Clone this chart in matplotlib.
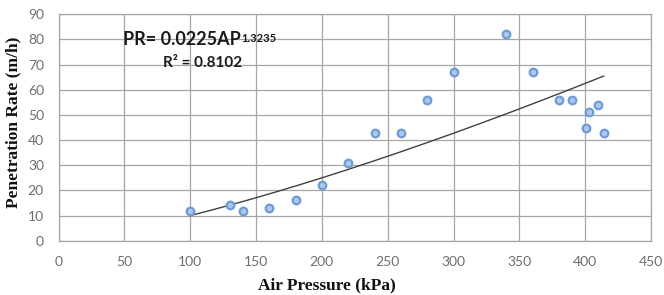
import numpy as np
import matplotlib
matplotlib.use("Agg")
import matplotlib.pyplot as plt

air_pressure = [100, 130, 140, 160, 180, 200, 220, 240, 260, 280, 300, 340, 360, 380, 390, 401, 403, 410, 414]
pen_rate = [12, 14, 12, 13, 16, 22, 31, 43, 43, 56, 67, 82, 67, 56, 56, 45, 51, 54, 43]
fit_a = 0.0225
fit_b = 1.3235
x_ticks = [0, 50, 100, 150, 200, 250, 300, 350, 400, 450]
y_ticks = [0, 10, 20, 30, 40, 50, 60, 70, 80, 90]

W, H = 664, 295
fig = plt.figure(figsize=(W / 100, H / 100), dpi=100)
ax = fig.add_axes([58.5 / W, 1 - 240.7 / H, (651 - 58.5) / W, (240.7 - 14.3) / H])

xf = np.linspace(min(air_pressure), max(air_pressure), 200)
ax.plot(xf, fit_a * xf ** fit_b, color="#404040", lw=1.0, zorder=2)
ax.scatter(air_pressure, pen_rate, s=30, facecolor="#adc8ea", edgecolor="#6e9bd6", linewidth=1.6, zorder=3)

ax.set_xlim(0, 450)
ax.set_ylim(0, 90)
ax.set_xticks(x_ticks)
ax.set_yticks(y_ticks)
ax.grid(True, color="#a6a6a6", lw=0.9)
ax.set_axisbelow(True)
for s in ax.spines.values():
    s.set_color("#a6a6a6")
    s.set_linewidth(0.9)
ax.tick_params(axis="x", length=0, labelsize=10, labelcolor="#6e6e6e", pad=11)
ax.tick_params(axis="y", length=0, labelsize=10, labelcolor="#6e6e6e", pad=10.5)
for lab in ax.get_xticklabels() + ax.get_yticklabels():
    lab.set_family("Lato")

ax.set_xlabel("Air Pressure (kPa)", family="Liberation Serif", fontweight="bold", fontsize=12.5, color="#111111")
ax.xaxis.set_label_coords((327 - 58.5) / (651 - 58.5), -(285 - 240.7) / (240.7 - 14.3))
ax.xaxis.label.set_va("center")
ax.set_ylabel("Penetration Rate (m/h)", family="Liberation Serif", fontweight="bold", fontsize=12.5, color="#111111")
ax.yaxis.set_label_coords(-(58.5 - 13) / (651 - 58.5), (240.7 - 122.5) / (240.7 - 14.3))
ax.yaxis.label.set_va("center")

t = fig.text(123 / W, 1 - 45 / H, "PR= 0.0225AP", family="Lato", fontweight="bold", fontsize=13,
             color="#1a1a1a", ha="left", va="baseline")
ax.annotate("1.3235", xy=(1, 0), xycoords=t, xytext=(0.5, 4.2), textcoords="offset points",
            family="Lato", fontweight="bold", fontsize=8, color="#1a1a1a", ha="left", va="baseline")
fig.text(163 / W, 1 - 66.7 / H, "R² = 0.8102", family="Lato", fontweight="bold", fontsize=11,
         color="#1a1a1a", ha="left", va="baseline")

fig.savefig("out.png", dpi=100)
